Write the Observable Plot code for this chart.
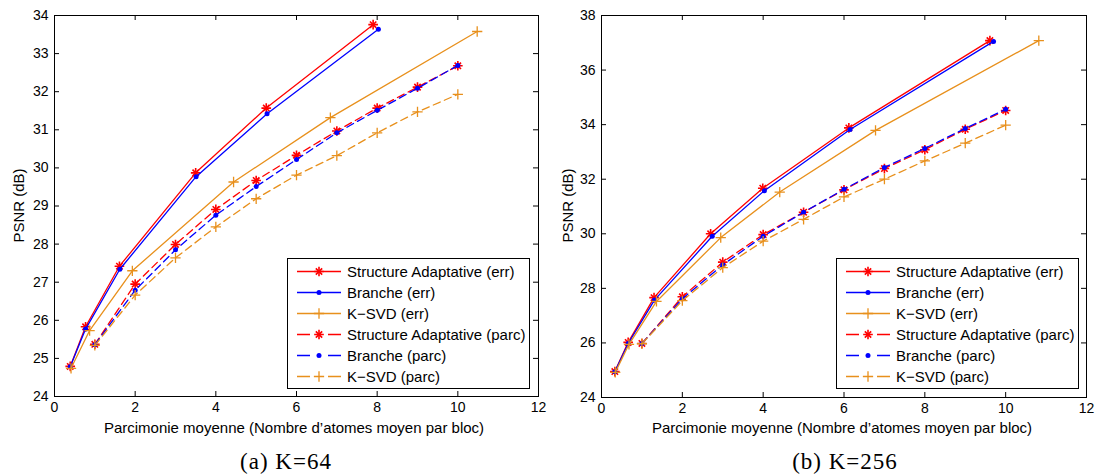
<!DOCTYPE html>
<html><head><meta charset="utf-8">
<script src="https://cdn.jsdelivr.net/npm/d3@7"></script>
<script src="https://cdn.jsdelivr.net/npm/@observablehq/plot@0.6"></script>
<style>
body{margin:0;background:#fff;}
#wrap{position:relative;width:1098px;height:476px;background:#fff;font-family:"Liberation Sans",Arial,sans-serif;color:#000;overflow:hidden}
.chart{position:absolute;top:0}
.xlabel{position:absolute;width:600px;text-align:center;font-size:15px;line-height:15px;top:420px;white-space:nowrap}
.ylabel{position:absolute;width:200px;text-align:center;font-size:15px;line-height:15px;transform:rotate(-90deg);white-space:nowrap}
.caption{position:absolute;width:300px;text-align:center;font-family:"Liberation Serif",serif;font-size:23px;line-height:22px;top:451px;letter-spacing:1px;white-space:nowrap}
.legend{position:absolute;top:258px;width:241px;height:127px;border:1px solid #000;background:#fff;padding-top:2px;box-sizing:content-box}
.row{display:flex;align-items:center;height:21px;font-size:15px;white-space:nowrap}
.row svg{margin-left:9px;margin-right:6px;flex:none}
</style></head><body><div id="wrap"></div>
<script>
// ---- Data ----
const seriesNames = ["Structure Adaptative (err)", "Branche (err)", "K\u2212SVD (err)",
                     "Structure Adaptative (parc)", "Branche (parc)", "K\u2212SVD (parc)"];
const seriesColors = ["#ff0000", "#0000ff", "#e8901c", "#ff0000", "#0000ff", "#e8901c"];
const seriesMarkers = ["star", "dot", "plus", "star", "dot", "plus"];
const seriesDashed = [false, false, false, true, true, true];

const xTicks = [0, 2, 4, 6, 8, 10, 12];
const yTicks64 = [24, 25, 26, 27, 28, 29, 30, 31, 32, 33, 34];
const yTicks256 = [24, 26, 28, 30, 32, 34, 36, 38];

const xParc = [1, 2, 3, 4, 5, 6, 7, 8, 9, 10];

// K=64
const xSAerr64 = [0.39, 0.77, 1.61, 3.50, 5.25, 7.90];
const ySAerr64 = [24.79, 25.83, 27.42, 29.87, 31.57, 33.76];
const xBRerr64 = [0.39, 0.77, 1.62, 3.51, 5.27, 8.03];
const yBRerr64 = [24.78, 25.77, 27.34, 29.77, 31.42, 33.64];
const xKSerr64 = [0.41, 0.87, 1.93, 4.44, 6.84, 10.48];
const yKSerr64 = [24.74, 25.73, 27.30, 29.63, 31.32, 33.58];
const ySApar64 = [25.37, 26.95, 27.99, 28.91, 29.67, 30.33, 30.97, 31.57, 32.12, 32.68];
const yBRpar64 = [25.36, 26.79, 27.85, 28.76, 29.51, 30.22, 30.92, 31.51, 32.09, 32.69];
const yKSpar64 = [25.34, 26.66, 27.64, 28.45, 29.19, 29.81, 30.32, 30.92, 31.47, 31.93];

// K=256
const xSAerr256 = [0.33, 0.66, 1.30, 2.70, 3.99, 6.12, 9.61];
const ySAerr256 = [24.95, 26.02, 27.66, 30.00, 31.67, 33.88, 37.08];
const xBRerr256 = [0.33, 0.66, 1.31, 2.74, 4.03, 6.15, 9.70];
const yBRerr256 = [24.94, 25.98, 27.57, 29.91, 31.58, 33.82, 37.05];
const xKSerr256 = [0.34, 0.68, 1.36, 2.95, 4.41, 6.78, 10.82];
const yKSerr256 = [24.92, 25.95, 27.52, 29.86, 31.53, 33.79, 37.08];
const ySApar256 = [25.98, 27.69, 28.96, 29.97, 30.79, 31.61, 32.39, 33.08, 33.83, 34.52];
const yBRpar256 = [25.98, 27.62, 28.86, 29.91, 30.79, 31.63, 32.43, 33.13, 33.86, 34.56];
const yKSpar256 = [25.97, 27.55, 28.76, 29.73, 30.53, 31.35, 32.00, 32.67, 33.32, 33.98];

const xLabel = "Parcimonie moyenne (Nombre d\u2019atomes moyen par bloc)";
const yLabel = "PSNR (dB)";

// ---- Helpers ----
const zip = (xs, ys) => xs.map((x, i) => ({x, y: ys[i]}));

function seriesMarks(data, i) {
  const color = seriesColors[i];
  const out = [Plot.line(data, {x: "x", y: "y", stroke: color, strokeWidth: 1.3,
    strokeDasharray: seriesDashed[i] ? "7.5,4.5" : null})];
  const m = seriesMarkers[i];
  if (m === "star") {
    out.push(Plot.dot(data, {x: "x", y: "y", symbol: "plus", r: 3.2, fill: "none", stroke: color, strokeWidth: 1.6}));
    out.push(Plot.dot(data, {x: "x", y: "y", symbol: "times", r: 3.0, fill: "none", stroke: color, strokeWidth: 1.6}));
  } else if (m === "dot") {
    out.push(Plot.dot(data, {x: "x", y: "y", r: 2.5, fill: color, stroke: null}));
  } else {
    out.push(Plot.dot(data, {x: "x", y: "y", symbol: "plus", r: 3.4, fill: "none", stroke: color, strokeWidth: 1.3}));
  }
  return out;
}

function chart(cfg) {
  const W = 549, H = 440;
  const pw = W - cfg.ml - cfg.mr, ph = H - 15 - cfg.mb;
  const tk = 5;
  return Plot.plot({
    width: W, height: H,
    marginLeft: cfg.ml, marginRight: cfg.mr, marginTop: 15, marginBottom: cfg.mb,
    style: {fontFamily: "Liberation Sans, Arial, sans-serif", fontSize: "14px", background: "transparent", color: "#000"},
    x: {domain: [0, 12], ticks: xTicks, tickSize: 0, tickPadding: 6, label: null},
    y: {domain: cfg.yDomain, ticks: cfg.yTicks, tickSize: 0, tickPadding: 6, label: null},
    marks: [
      Plot.tickX(xTicks, {x: d => d, insetTop: ph - tk, stroke: "#000"}),
      Plot.tickX(xTicks, {x: d => d, insetBottom: ph - tk, stroke: "#000"}),
      Plot.tickY(cfg.yTicks, {y: d => d, insetRight: pw - tk, stroke: "#000"}),
      Plot.tickY(cfg.yTicks, {y: d => d, insetLeft: pw - tk, stroke: "#000"}),
      ...cfg.series.flatMap((d, i) => seriesMarks(d, i)),
      Plot.frame({stroke: "#000"})
    ]
  });
}

function legend(wrap, left) {
  const box = wrap.append("div").attr("class", "legend").style("left", left + "px");
  seriesNames.forEach((name, i) => {
    const row = box.append("div").attr("class", "row");
    const svg = row.append("svg").attr("width", 44).attr("height", 21);
    const c = seriesColors[i];
    svg.append("line").attr("x1", 0).attr("x2", 44).attr("y1", 10.5).attr("y2", 10.5)
      .attr("stroke", c).attr("stroke-width", 1.3)
      .attr("stroke-dasharray", seriesDashed[i] ? "13,18" : null);
    const g = svg.append("g").attr("transform", "translate(22,10.5)");
    const m = seriesMarkers[i];
    if (m === "star") {
      g.append("path").attr("d", d3.symbol(d3.symbolPlus, Math.PI * 3.2 * 3.2)()).attr("fill", "none").attr("stroke", c).attr("stroke-width", 1.6);
      g.append("path").attr("d", d3.symbol(d3.symbolTimes, Math.PI * 3.0 * 3.0)()).attr("fill", "none").attr("stroke", c).attr("stroke-width", 1.6);
    } else if (m === "dot") {
      g.append("circle").attr("r", 2.5).attr("fill", c);
    } else {
      g.append("path").attr("d", d3.symbol(d3.symbolPlus, Math.PI * 3.4 * 3.4)()).attr("fill", "none").attr("stroke", c).attr("stroke-width", 1.3);
    }
    row.append("span").text(name);
  });
}

// ---- Build ----
const wrap = d3.select("#wrap");

const left = chart({
  ml: 54, mr: 11, mb: 44, yDomain: [24, 34], yTicks: yTicks64,
  series: [zip(xSAerr64, ySAerr64), zip(xBRerr64, yBRerr64), zip(xKSerr64, yKSerr64),
           zip(xParc, ySApar64), zip(xParc, yBRpar64), zip(xParc, yKSpar64)]
});
const right = chart({
  ml: 52, mr: 12, mb: 43, yDomain: [24, 38], yTicks: yTicks256,
  series: [zip(xSAerr256, ySAerr256), zip(xBRerr256, yBRerr256), zip(xKSerr256, yKSerr256),
           zip(xParc, ySApar256), zip(xParc, yBRpar256), zip(xParc, yKSpar256)]
});

wrap.append("div").attr("class", "chart").style("left", "0px").node().appendChild(left);
wrap.append("div").attr("class", "chart").style("left", "549px").node().appendChild(right);

legend(wrap, 287);
legend(wrap, 836);

wrap.append("div").attr("class", "xlabel").style("left", (294 - 300) + "px").text(xLabel);
wrap.append("div").attr("class", "xlabel").style("left", (842 - 300) + "px").text(xLabel);
wrap.append("div").attr("class", "ylabel").style("left", (18 - 100) + "px").style("top", "198px").text(yLabel);
wrap.append("div").attr("class", "ylabel").style("left", (566.5 - 100) + "px").style("top", "198px").text(yLabel);

wrap.append("div").attr("class", "caption").style("left", (286 - 150) + "px").text("(a) K=64");
wrap.append("div").attr("class", "caption").style("left", (845 - 150) + "px").text("(b) K=256");
</script></body></html>
